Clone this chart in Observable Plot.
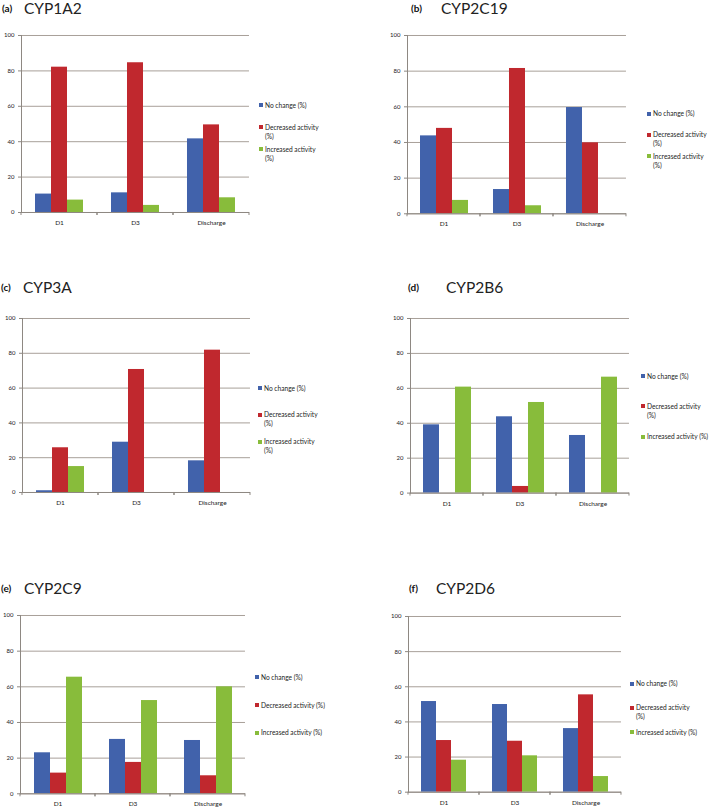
<!DOCTYPE html>
<html>
<head>
<meta charset="utf-8">
<script src="https://cdn.jsdelivr.net/npm/d3@7"></script>
<script src="https://cdn.jsdelivr.net/npm/@observablehq/plot@0.6"></script>
<style>
  html, body { margin: 0; padding: 0; background: #fff; }
  #root { position: relative; width: 709px; height: 812px; overflow: hidden; font-family: Lato, "Open Sans", sans-serif; }
  .abs { position: absolute; }
  .letter { font-weight: 700; font-size: 10px; line-height: 20px; color: #111; white-space: nowrap; }
  .name { font-size: 15.5px; font-weight: 400; line-height: 20px; color: #222; white-space: nowrap; }
  .leg { font-size: 6.6px; line-height: 9px; color: #222; white-space: nowrap; }
  .sw { position: absolute; width: 4px; height: 4px; }
</style>
</head>
<body>
<div id="root"></div>
<script>
// ---- data ----
const categories = ["D1", "D3", "Discharge"];
const seriesNames = ["No change (%)", "Decreased activity (%)", "Increased activity (%)"];
const yTicks = [0, 20, 40, 60, 80, 100];

const cyp1a2NoChange  = [10.4, 11.1, 41.6];
const cyp1a2Decreased = [82.1, 84.6, 49.5];
const cyp1a2Increased = [7.0, 4.0, 8.3];

const cyp2c19NoChange  = [43.7, 13.6, 59.6];
const cyp2c19Decreased = [47.9, 81.5, 39.8];
const cyp2c19Increased = [7.5, 4.5, 0];

const cyp3aNoChange  = [1.0, 28.9, 18.2];
const cyp3aDecreased = [25.7, 70.7, 81.8];
const cyp3aIncreased = [14.9, 0, 0];

const cyp2b6NoChange  = [39.1, 43.7, 33.0];
const cyp2b6Decreased = [0, 3.8, 0];
const cyp2b6Increased = [60.7, 51.9, 66.4];

const cyp2c9NoChange  = [23.0, 30.5, 29.9];
const cyp2c9Decreased = [11.6, 17.6, 10.1];
const cyp2c9Increased = [65.4, 52.3, 60.0];

const cyp2d6NoChange  = [51.6, 49.9, 36.2];
const cyp2d6Decreased = [29.4, 29.0, 55.4];
const cyp2d6Increased = [18.2, 20.7, 8.9];

const panelLetters = ["(a)", "(b)", "(c)", "(d)", "(e)", "(f)"];
const panelNames = ["CYP1A2", "CYP2C19", "CYP3A", "CYP2B6", "CYP2C9", "CYP2D6"];
const panelValues = [
  [cyp1a2NoChange, cyp1a2Decreased, cyp1a2Increased],
  [cyp2c19NoChange, cyp2c19Decreased, cyp2c19Increased],
  [cyp3aNoChange, cyp3aDecreased, cyp3aIncreased],
  [cyp2b6NoChange, cyp2b6Decreased, cyp2b6Increased],
  [cyp2c9NoChange, cyp2c9Decreased, cyp2c9Increased],
  [cyp2d6NoChange, cyp2d6Decreased, cyp2d6Increased]
];

// ---- styles / layout ----
const colors = ["#4162ab", "#c0282e", "#88bc3b"];
const gridColor = "#a8a099";
const axisColor = "#8e8882";
const outerPad = 0.75;

// frame: x0 (y axis), x1 (right end), yTop (100 line), yBase (0 line)
const layouts = [
  {x0: 20.7, x1: 249.3, yTop: 35.3, yBase: 212.3, lx: 2, nx: 24, ty: 8,
   legX: 259, legY: 105, legGap: 22, wrap: [false, true, true]},
  {x0: 407.3, x1: 627, yTop: 35, yBase: 213.3, lx: 411, nx: 441, ty: 7.5,
   legX: 647, legY: 113.7, legGap: 21.2, wrap: [false, true, true]},
  {x0: 21.7, x1: 250, yTop: 318.3, yBase: 492.3, lx: 1, nx: 23, ty: 286.7,
   legX: 258, legY: 388, legGap: 26.8, wrap: [false, true, true]},
  {x0: 409.7, x1: 629, yTop: 317.7, yBase: 492.3, lx: 408, nx: 446, ty: 286.7,
   legX: 641, legY: 376, legGap: 30.3, wrap: [false, true, false]},
  {x0: 20, x1: 245, yTop: 615, yBase: 793.3, lx: 1, nx: 24, ty: 588.3,
   legX: 255, legY: 677.3, legGap: 27.7, wrap: [false, false, false]},
  {x0: 408.3, x1: 621.7, yTop: 616, yBase: 791.7, lx: 409, nx: 436, ty: 588.3,
   legX: 630, legY: 683.7, legGap: 24.2, wrap: [false, true, false]}
];

const root = document.getElementById("root");
const ML = 20, MR = 1, MT = 6, MB = 16;

// small tick marks at category boundaries, taken from the band scale's range
function boundaryTicks(index, scales) {
  const xs = scales.x, ys = scales.y;
  let edges;
  if (typeof xs.range === "function") {
    edges = xs.range();
  } else {
    const a = xs(seriesNames[0]);
    const step = xs(seriesNames[1]) - a;
    edges = [a - outerPad * step, xs(seriesNames[2]) + step * (1 + outerPad)];
  }
  const y0 = ys(0);
  const g = d3.create("svg:g").attr("stroke", axisColor).attr("stroke-width", 1);
  edges.forEach(x => {
    if (isFinite(x)) g.append("line").attr("x1", x).attr("x2", x).attr("y1", y0).attr("y2", y0 + 3);
  });
  return g.node();
}

panelNames.forEach((name, p) => {
  const L = layouts[p];
  const rows = [];
  categories.forEach((cat, i) => {
    seriesNames.forEach((s, j) => rows.push({cat, series: s, value: panelValues[p][j][i]}));
  });

  const chart = Plot.plot({
    width: (L.x1 - L.x0) + ML + MR,
    height: (L.yBase - L.yTop) + MT + MB,
    marginLeft: ML, marginRight: MR, marginTop: MT, marginBottom: MB,
    style: {fontFamily: "Lato, 'Open Sans', sans-serif", background: "transparent", overflow: "visible"},
    fx: {domain: categories, padding: 0, label: null},
    x: {domain: seriesNames, paddingInner: 0, paddingOuter: outerPad, axis: null},
    y: {domain: [0, 100], label: null},
    color: {domain: seriesNames, range: colors},
    marks: [
      Plot.ruleY(yTicks, {stroke: gridColor, strokeWidth: 1}),
      Plot.barY(rows, {fx: "cat", x: "series", y: "value", fill: "series"}),
      Plot.ruleY([0], {stroke: axisColor, strokeWidth: 1}),
      Plot.ruleY([0], {render: boundaryTicks}),
      Plot.frame({anchor: "left", facetAnchor: "left", stroke: axisColor}),
      Plot.axisY({ticks: yTicks, tickSize: 3, tickPadding: 4, fontSize: 6, stroke: axisColor, fill: "#222", label: null}),
      Plot.axisFx({anchor: "bottom", tickSize: 0, tickPadding: 8, fontSize: 6.5, fill: "#222", label: null})
    ]
  });
  chart.classList.add("abs");
  chart.style.left = (L.x0 - ML) + "px";
  chart.style.top = (L.yTop - MT) + "px";
  root.appendChild(chart);

  const letter = document.createElement("div");
  letter.className = "abs letter";
  letter.textContent = panelLetters[p];
  letter.style.left = L.lx + "px";
  letter.style.top = (L.ty - 10) + "px";
  root.appendChild(letter);

  const title = document.createElement("div");
  title.className = "abs name";
  title.textContent = name;
  title.style.left = L.nx + "px";
  title.style.top = (L.ty - 10) + "px";
  root.appendChild(title);

  seriesNames.forEach((s, j) => {
    const cy = L.legY + j * L.legGap;
    const sw = document.createElement("div");
    sw.className = "sw";
    sw.style.background = colors[j];
    sw.style.left = L.legX + "px";
    sw.style.top = (cy - 2) + "px";
    root.appendChild(sw);
    const t = document.createElement("div");
    t.className = "abs leg";
    t.style.left = (L.legX + 6) + "px";
    t.style.top = (cy - 4.5) + "px";
    if (L.wrap[j]) {
      const k = s.lastIndexOf(" ");
      t.appendChild(document.createTextNode(s.slice(0, k)));
      t.appendChild(document.createElement("br"));
      t.appendChild(document.createTextNode(s.slice(k + 1)));
    } else {
      t.textContent = s;
    }
    root.appendChild(t);
  });
});
</script>
</body>
</html>
